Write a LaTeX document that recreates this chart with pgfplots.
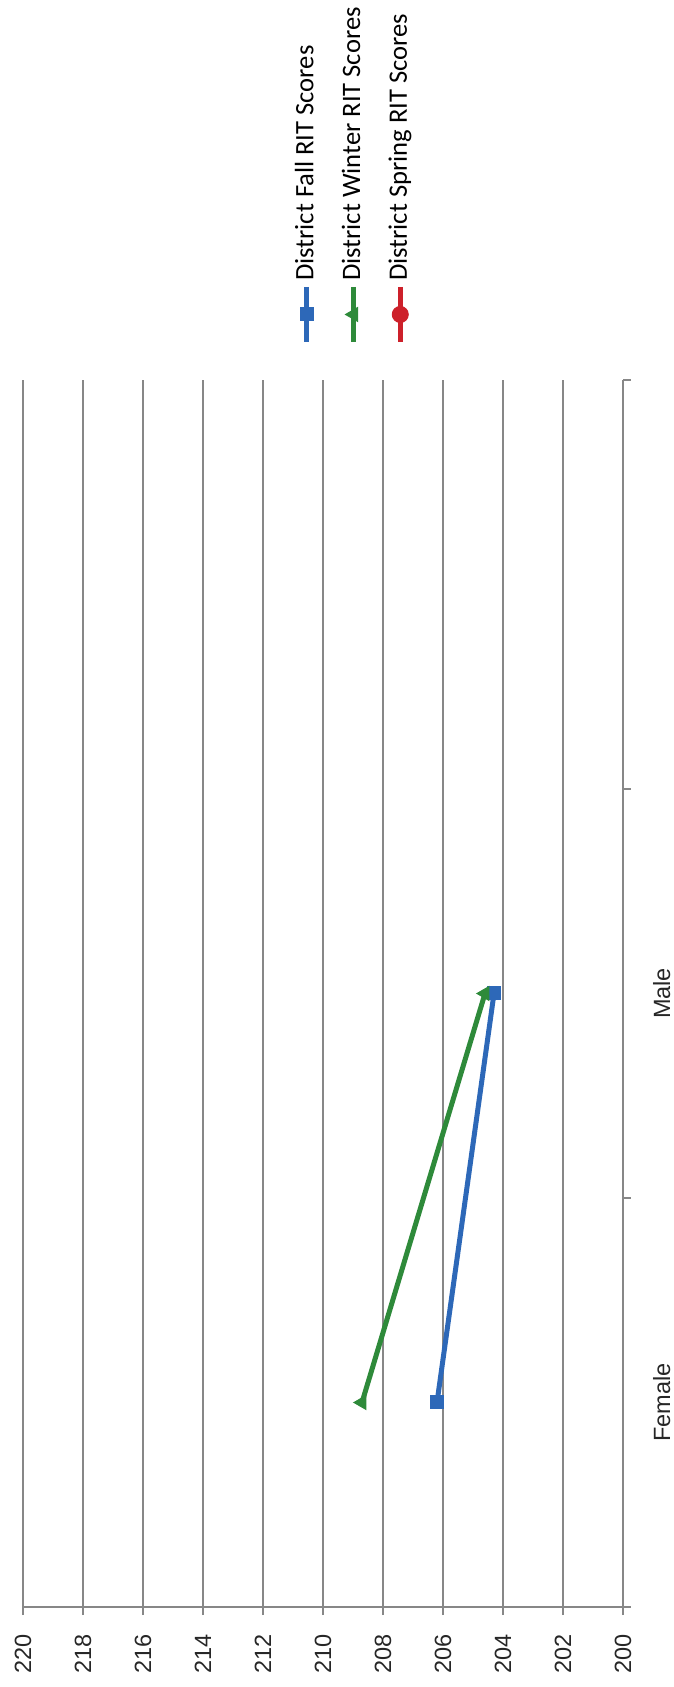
\documentclass[border=0pt]{standalone}
\usepackage{pgfplots}
\pgfplotsset{compat=1.18}
\usepackage{fontspec}
\usepackage{graphicx}
\setmainfont{Liberation Sans}
\newfontfamily\legendfont{Carlito}
\definecolor{fallblue}{RGB}{45,104,184}
\definecolor{wintergreen}{RGB}{46,138,58}
\definecolor{springred}{RGB}{205,32,42}
\definecolor{gridgray}{RGB}{135,135,135}
\newcommand{\legtext}[1]{\rotatebox{90}{\rule[-6pt]{0pt}{20pt}#1}}
\begin{document}
\begin{tikzpicture}[x=1pt,y=1pt]
\path[use as bounding box] (0,0) rectangle (674,1687);
\begin{axis}[
  at={(23pt,80pt)}, anchor=south west,
  scale only axis, width=600pt, height=1227pt,
  x dir=reverse, xmin=200, xmax=220, xtick={200,202,...,220},
  ymin=-0.5, ymax=2.5, ytick={-0.5,0.5,1.5,2.5}, yticklabels={,,,},
  extra y ticks={0,1}, extra y tick labels={Female,Male},
  extra y tick style={major tick length=0pt},
  axis x line=bottom, axis y line=right,
  axis line style={draw=gridgray, line width=1.5pt, -},
  xmajorgrids, major grid style={draw=gridgray, line width=1.3pt},
  tick align=outside, major tick length=8pt,
  tick style={draw=gridgray, line width=1.3pt},
  /pgf/number format/assume math mode=true,
  tick label style={font=\fontsize{23.5}{28}\selectfont, text=black!85, inner sep=0pt},
  xticklabel style={rotate=90, anchor=east},
  yticklabel style={rotate=90, anchor=north},
  xticklabel shift=19pt, yticklabel shift=30pt,
  legend columns=-1,
  legend style={anchor=south west, at={(axis description cs:0.4347,1.0807)},
    draw=none, fill=none, inner sep=0pt, outer sep=0pt, column sep=11.2pt,
    font=\legendfont\fontsize{26.6}{30}\selectfont,
    cells={anchor=south west},
    nodes={inner sep=0pt, text depth=0pt}},
  legend image code/.code={\draw[overlay, mark repeat=2, mark phase=2, line width=4.5pt]
     plot coordinates {(22.9pt,-6pt) (22.9pt,-33.5pt) (22.9pt,-61pt)};},
  clip=false,
]
\addplot[color=fallblue, line width=5pt, mark=square*, mark size=6.5pt, mark options={line width=1pt}]
  coordinates {(206.2,0) (204.3,1)};
\addlegendentry{\legtext{District Fall RIT Scores}}
\addplot[color=wintergreen, line width=5pt, mark=triangle*, mark size=8pt, mark options={line width=1pt, rotate=90}]
  coordinates {(208.7,0) (204.6,1)};
\addlegendentry{\legtext{District Winter RIT Scores}}
\addlegendimage{color=springred, line width=5pt, mark=*, mark size=8pt, mark options={line width=1pt}}
\addlegendentry{\legtext{District Spring RIT Scores}}
\end{axis}
\end{tikzpicture}
\end{document}
